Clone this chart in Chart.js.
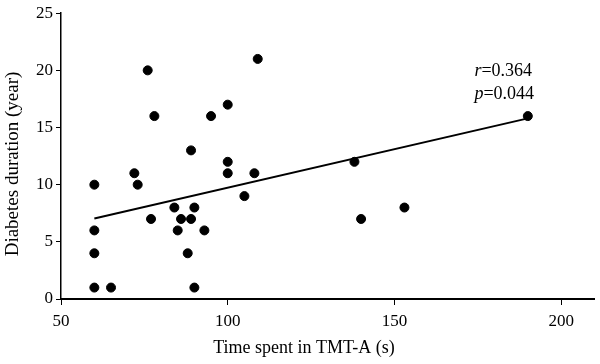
<!DOCTYPE html>
<html>
<head>
<meta charset="utf-8">
<script src="https://cdn.jsdelivr.net/npm/chart.js@4"></script>
<style>
  html, body { margin: 0; padding: 0; background: #fff; }
  #wrap { width: 600px; height: 364px; }
</style>
</head>
<body>
<div id="wrap"><canvas id="chart" width="600" height="364"></canvas></div>
<script>
// TMT-A time (s) vs diabetes duration (year)
const timeSpent = [76, 109, 78, 95, 100, 89, 100, 72, 100, 108,
  60, 73, 77, 84, 86, 85, 89, 90, 88, 90,
  93, 105, 60, 60, 60, 65, 140, 153, 138, 190];
const duration = [20, 21, 16, 16, 17, 13, 12, 11, 11, 11,
  10, 10, 7, 8, 7, 6, 7, 8, 4, 1,
  6, 9, 6, 4, 1, 1, 7, 8, 12, 16];

// fitted line end points
const fitX = [60, 190];
const fitY = [7.05, 15.8];

const xTicks = [50, 100, 150, 200];
const yTicks = [0, 5, 10, 15, 20, 25];

const serif = "'Liberation Serif', 'Times New Roman', serif";

// r / p annotation, drawn at data coords
const statsText = [
  { sym: "r", val: "=0.364", x: 174, y: 19.5 },
  { sym: "p", val: "=0.044", x: 174, y: 17.5 },
];

const extras = {
  id: "extras",
  afterDraw(chart) {
    const ctx = chart.ctx;
    const xs = chart.scales.x, ys = chart.scales.y;
    ctx.save();
    ctx.fillStyle = "#000";
    ctx.textBaseline = "alphabetic";
    statsText.forEach(s => {
      let px = xs.getPixelForValue(s.x);
      const py = ys.getPixelForValue(s.y);
      ctx.font = "italic 18px " + serif;
      ctx.fillText(s.sym, px, py);
      px += ctx.measureText(s.sym).width;
      ctx.font = "18px " + serif;
      ctx.fillText(s.val, px, py);
    });

    // axis titles
    ctx.textAlign = "center";
    ctx.textBaseline = "middle";
    ctx.font = "18px " + serif;
    ctx.fillText("Time spent in TMT-A (s)", 304, 348);
    ctx.font = "19px " + serif;
    ctx.translate(13, 164);
    ctx.rotate(-Math.PI / 2);
    ctx.fillText("Diabetes duration (year)", 0, 0);
    ctx.restore();
  }
};

new Chart(document.getElementById("chart"), {
  type: "scatter",
  data: {
    datasets: [
      {
        data: timeSpent.map((t, i) => ({ x: t, y: duration[i] })),
        backgroundColor: "#000",
        borderColor: "#000",
        pointRadius: 4.5,
        pointHoverRadius: 4.5,
      },
      {
        type: "line",
        data: fitX.map((t, i) => ({ x: t, y: fitY[i] })),
        borderColor: "#000",
        borderWidth: 2,
        pointRadius: 0,
        fill: false,
      },
    ],
  },
  options: {
    responsive: false,
    animation: false,
    layout: { padding: { left: 0, top: 10, right: 4, bottom: 0 } },
    plugins: { legend: { display: false }, tooltip: { enabled: false } },
    scales: {
      x: {
        type: "linear",
        min: 50,
        max: 210,
        afterBuildTicks: s => { s.ticks = xTicks.map(v => ({ value: v })); },
        afterFit: s => { s.height = 65; },
        grid: { display: true, drawOnChartArea: false, drawTicks: true, tickLength: 6, tickColor: "#000", tickWidth: 1 },
        border: { display: true, color: "#000", width: 2 },
        ticks: { color: "#000", font: { family: serif, size: 17 }, padding: 6, maxRotation: 0 },
      },
      y: {
        type: "linear",
        min: 0,
        max: 25,
        afterBuildTicks: s => { s.ticks = yTicks.map(v => ({ value: v })); },
        afterFit: s => { s.width = 61; },
        grid: { display: true, drawOnChartArea: false, drawTicks: true, tickLength: 5, tickColor: "#000", tickWidth: 1 },
        border: { display: true, color: "#000", width: 1.5 },
        ticks: { color: "#000", font: { family: serif, size: 17 }, padding: 3 },
      },
    },
  },
  plugins: [extras],
});
</script>
</body>
</html>
